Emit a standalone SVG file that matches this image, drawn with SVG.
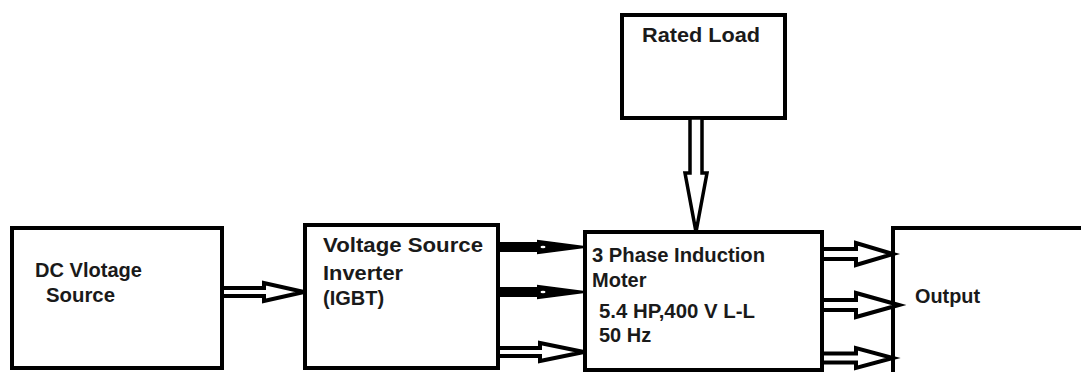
<svg xmlns="http://www.w3.org/2000/svg" width="1081" height="372" viewBox="0 0 1081 372">
<style>
.box{fill:#fff;stroke:#000;stroke-width:4}
.arr{fill:#fff;stroke:#000;stroke-linejoin:miter}
.solid{fill:#000;stroke:#000;stroke-width:2}
.t{font-family:"Liberation Sans",Arial,sans-serif;font-weight:bold;font-size:20px;fill:#1a1a1a}
</style>
<rect width="1081" height="372" fill="#fff"/>
<g id="dc-source">
<rect class="box" x="12" y="228" width="210" height="140"/>
<text class="t" x="35" y="277" textLength="107" lengthAdjust="spacingAndGlyphs">DC Vlotage</text>
<text class="t" x="46" y="302" textLength="69" lengthAdjust="spacingAndGlyphs">Source</text>
</g>
<g id="inverter">
<rect class="box" x="305" y="225" width="193" height="143"/>
<text class="t" x="323" y="252" font-size="22" textLength="160" lengthAdjust="spacingAndGlyphs">Voltage Source</text>
<text class="t" x="323" y="280" font-size="22" textLength="80" lengthAdjust="spacingAndGlyphs">Inverter</text>
<text class="t" x="323" y="305" font-size="22">(IGBT)</text>
</g>
<g id="motor">
<rect class="box" x="585" y="232" width="237" height="138"/>
<text class="t" x="592" y="262" font-size="21" textLength="173" lengthAdjust="spacingAndGlyphs">3 Phase Induction</text>
<text class="t" x="592" y="287" font-size="21">Moter</text>
<text class="t" x="599" y="318" font-size="21" textLength="156" lengthAdjust="spacingAndGlyphs">5.4 HP,400 V L-L</text>
<text class="t" x="599" y="342" font-size="21">50 Hz</text>
</g>
<g id="rated-load">
<rect class="box" x="622" y="15" width="163" height="103"/>
<text class="t" x="642" y="42" font-size="21" textLength="118" lengthAdjust="spacingAndGlyphs">Rated Load</text>
</g>
<g id="output">
<rect class="box" x="893" y="228" width="200" height="160"/>
<text class="t" x="915" y="303" font-size="20" textLength="65" lengthAdjust="spacingAndGlyphs">Output</text>
</g>
<g id="connectors">
<polygon class="arr" stroke-width="4" points="222,288 264,288 264,283 304,292 264,301 264,296 222,296"/>
<polygon class="solid" points="498,243 538,243 538,241 585,247 538,253 538,251 498,251"/>
<ellipse cx="543" cy="247" rx="2.5" ry="1.3" fill="#fff"/>
<polygon class="solid" points="498,288 538,288 538,286 585,292 538,298 538,296 498,296"/>
<ellipse cx="543" cy="292" rx="2.5" ry="1.3" fill="#fff"/>
<polygon class="arr" stroke-width="4" points="498,348 540,348 540,343 584,352 540,361 540,356 498,356"/>
<polygon class="arr" stroke-width="4" points="822,249 856,249 856,243 893,254 856,265 856,259 822,259"/>
<polygon class="arr" stroke-width="4" points="822,300 856,300 856,293 899,305 856,317 856,310 822,310"/>
<polygon class="arr" stroke-width="4" points="822,353.5 856,353.5 856,348 893,358 856,368 856,362.5 822,362.5"/>
<polygon class="arr" stroke-width="3.5" points="690,118 690,173 685,173 696,232 707,173 702,173 702,118"/>
</g>
</svg>
